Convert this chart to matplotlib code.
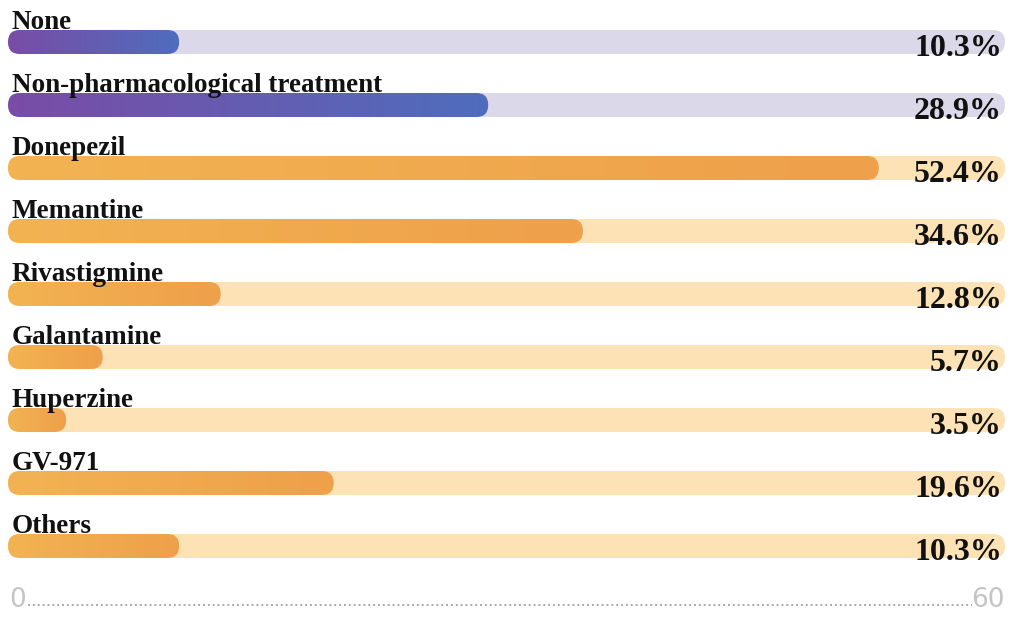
import matplotlib
matplotlib.use("Agg")
import matplotlib.pyplot as plt
import numpy as np
from matplotlib.patches import FancyBboxPatch
from matplotlib.colors import LinearSegmentedColormap

categories = ["None", "Non-pharmacological treatment", "Donepezil", "Memantine",
              "Rivastigmine", "Galantamine", "Huperzine", "GV-971", "Others"]
values = [10.3, 28.9, 52.4, 34.6, 12.8, 5.7, 3.5, 19.6, 10.3]
groups = ["purple", "purple", "orange", "orange", "orange", "orange", "orange", "orange", "orange"]
x_ticks = [0, 60]

W, H = 1012, 618
fig = plt.figure(figsize=(W / 100, H / 100), dpi=100)
ax = fig.add_axes([0, 0, 1, 1])
ax.set_axis_off()

# mapping: x=0 at px 8, x=60 at px 1005
pxu = (1005 - 8) / 60.0
ax.set_xlim(-8 / pxu, 60 + (W - 1005) / pxu)
row = 63.0
top0 = 42.0
ax.set_ylim((H - top0) / row, -top0 / row)

bar_h = 24 / row
rad_x = 12 / pxu
aspect = (1 / row) / (1 / pxu)

styles = {
    "purple": dict(track="#dbd8ea", c0="#7a4ca6", c1="#4f6dbd"),
    "orange": dict(track="#fde2b5", c0="#f3b353", c1="#eea04a"),
}

def rbar(x0, x1, y, color=None, grad=None, z=1):
    p = FancyBboxPatch((x0, y - bar_h / 2), x1 - x0, bar_h,
                       boxstyle=f"round,pad=0,rounding_size={rad_x}",
                       mutation_aspect=aspect, linewidth=0,
                       facecolor=color if color else "none", zorder=z)
    ax.add_patch(p)
    if grad is not None:
        cmap = LinearSegmentedColormap.from_list("g", grad)
        img = ax.imshow(np.linspace(0, 1, 256)[None, :], cmap=cmap, aspect="auto",
                        extent=(x0, x1, y + bar_h / 2, y - bar_h / 2), zorder=z + 0.1,
                        interpolation="bilinear")
        img.set_clip_path(p)
    return p

serif = ["Liberation Serif", "DejaVu Serif"]
for i, (cat, v, g) in enumerate(zip(categories, values, groups)):
    st = styles[g]
    rbar(0, 60, i, color=st["track"], z=1)
    rbar(0, v, i, grad=[st["c0"], st["c1"]], z=2)
    ax.text(4 / pxu, i - bar_h / 2 - 1 / row, cat, ha="left", va="baseline",
            fontsize=19.5, fontweight="bold", family=serif, color="#111111", zorder=5)
    ax.text(60 - 3 / pxu, i + 14 / row, f"{v}%", ha="right", va="baseline",
            fontsize=23, fontweight="bold", family=serif, color="#111111", zorder=5)

axis_y = (H - 13 - top0) / row
ax.plot([1.2, 58.0], [axis_y, axis_y], color="#a8a8a8", lw=1.4, ls=(0, (1, 1.5)), zorder=3)
for t in x_ticks:
    ax.text(t + (0.1 if t == 0 else -0.05), axis_y + 2 / row, str(t),
            ha="left" if t == 0 else "right", va="baseline",
            fontsize=19, family=["Liberation Sans Narrow", "DejaVu Sans"], color="#c4c4c4")

fig.savefig("out.png", dpi=100)
